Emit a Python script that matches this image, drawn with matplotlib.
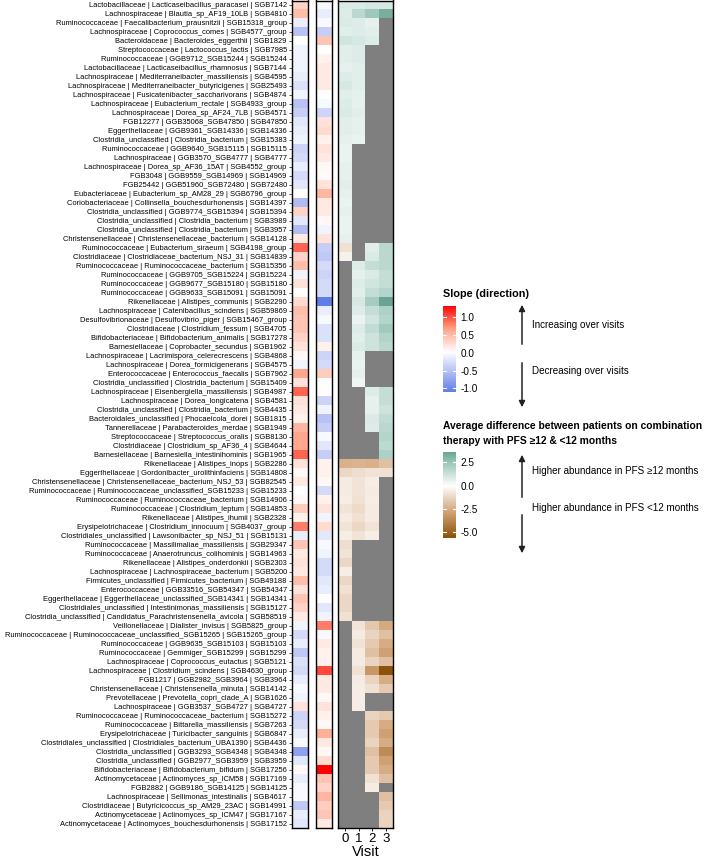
import numpy as np
import matplotlib
matplotlib.use("Agg")
import matplotlib.pyplot as plt
from matplotlib.colors import LinearSegmentedColormap, Normalize

plt.rcParams["font.family"] = ["Liberation Sans", "DejaVu Sans"]

nan = np.nan

taxa = [
    "Lactobacillaceae | Lacticaseibacillus_paracasei | SGB7142",
    "Lachnospiraceae | Blautia_sp_AF19_10LB | SGB4810",
    "Ruminococcaceae | Faecalibacterium_prausnitzii | SGB15318_group",
    "Lachnospiraceae | Coprococcus_comes | SGB4577_group",
    "Bacteroidaceae | Bacteroides_eggerthii | SGB1829",
    "Streptococcaceae | Lactococcus_lactis | SGB7985",
    "Ruminococcaceae | GGB9712_SGB15244 | SGB15244",
    "Lactobacillaceae | Lacticaseibacillus_rhamnosus | SGB7144",
    "Lachnospiraceae | Mediterraneibacter_massiliensis | SGB4595",
    "Lachnospiraceae | Mediterraneibacter_butyricigenes | SGB25493",
    "Lachnospiraceae | Fusicatenibacter_saccharivorans | SGB4874",
    "Lachnospiraceae | Eubacterium_rectale | SGB4933_group",
    "Lachnospiraceae | Dorea_sp_AF24_7LB | SGB4571",
    "FGB12277 | GGB35068_SGB47850 | SGB47850",
    "Eggerthellaceae | GGB9361_SGB14336 | SGB14336",
    "Clostridia_unclassified | Clostridia_bacterium | SGB15383",
    "Ruminococcaceae | GGB9640_SGB15115 | SGB15115",
    "Lachnospiraceae | GGB3570_SGB4777 | SGB4777",
    "Lachnospiraceae | Dorea_sp_AF36_15AT | SGB4552_group",
    "FGB3048 | GGB9559_SGB14969 | SGB14969",
    "FGB25442 | GGB51960_SGB72480 | SGB72480",
    "Eubacteriaceae | Eubacterium_sp_AM28_29 | SGB6796_group",
    "Coriobacteriaceae | Collinsella_bouchesdurhonensis | SGB14397",
    "Clostridia_unclassified | GGB9774_SGB15394 | SGB15394",
    "Clostridia_unclassified | Clostridia_bacterium | SGB3989",
    "Clostridia_unclassified | Clostridia_bacterium | SGB3957",
    "Christensenellaceae | Christensenellaceae_bacterium | SGB14128",
    "Ruminococcaceae | Eubacterium_siraeum | SGB4198_group",
    "Clostridiaceae | Clostridiaceae_bacterium_NSJ_31 | SGB14839",
    "Ruminococcaceae | Ruminococcaceae_bacterium | SGB15356",
    "Ruminococcaceae | GGB9705_SGB15224 | SGB15224",
    "Ruminococcaceae | GGB9677_SGB15180 | SGB15180",
    "Ruminococcaceae | GGB9633_SGB15091 | SGB15091",
    "Rikenellaceae | Alistipes_communis | SGB2290",
    "Lachnospiraceae | Catenibacillus_scindens | SGB59869",
    "Desulfovibrionaceae | Desulfovibrio_piger | SGB15467_group",
    "Clostridiaceae | Clostridium_fessum | SGB4705",
    "Bifidobacteriaceae | Bifidobacterium_animalis | SGB17278",
    "Barnesiellaceae | Coprobacter_secundus | SGB1962",
    "Lachnospiraceae | Lacrimispora_celerecrescens | SGB4868",
    "Lachnospiraceae | Dorea_formicigenerans | SGB4575",
    "Enterococcaceae | Enterococcus_faecalis | SGB7962",
    "Clostridia_unclassified | Clostridia_bacterium | SGB15409",
    "Lachnospiraceae | Eisenbergiella_massiliensis | SGB4987",
    "Lachnospiraceae | Dorea_longicatena | SGB4581",
    "Clostridia_unclassified | Clostridia_bacterium | SGB4435",
    "Bacteroidales_unclassified | Phocaeicola_dorei | SGB1815",
    "Tannerellaceae | Parabacteroides_merdae | SGB1949",
    "Streptococcaceae | Streptococcus_oralis | SGB8130",
    "Clostridiaceae | Clostridium_sp_AF36_4 | SGB4644",
    "Barnesiellaceae | Barnesiella_intestinihominis | SGB1965",
    "Rikenellaceae | Alistipes_inops | SGB2286",
    "Eggerthellaceae | Gordonibacter_urolithinfaciens | SGB14808",
    "Christensenellaceae | Christensenellaceae_bacterium_NSJ_53 | SGB82545",
    "Ruminococcaceae | Ruminococcaceae_unclassified_SGB15233 | SGB15233",
    "Ruminococcaceae | Ruminococcaceae_bacterium | SGB14906",
    "Ruminococcaceae | Clostridium_leptum | SGB14853",
    "Rikenellaceae | Alistipes_ihumii | SGB2328",
    "Erysipelotrichaceae | Clostridium_innocuum | SGB4037_group",
    "Clostridiales_unclassified | Lawsonibacter_sp_NSJ_51 | SGB15131",
    "Ruminococcaceae | Massilimaliae_massiliensis | SGB29347",
    "Ruminococcaceae | Anaerotruncus_colihominis | SGB14963",
    "Rikenellaceae | Alistipes_onderdonkii | SGB2303",
    "Lachnospiraceae | Lachnospiraceae_bacterium | SGB5200",
    "Firmicutes_unclassified | Firmicutes_bacterium | SGB49188",
    "Enterococcaceae | GGB33516_SGB54347 | SGB54347",
    "Eggerthellaceae | Eggerthellaceae_unclassified_SGB14341 | SGB14341",
    "Clostridiales_unclassified | Intestinimonas_massiliensis | SGB15127",
    "Clostridia_unclassified | Candidatus_Parachristensenella_avicola | SGB58519",
    "Veillonellaceae | Dialister_invisus | SGB5825_group",
    "Ruminococcaceae | Ruminococcaceae_unclassified_SGB15265 | SGB15265_group",
    "Ruminococcaceae | GGB9635_SGB15103 | SGB15103",
    "Ruminococcaceae | Gemmiger_SGB15299 | SGB15299",
    "Lachnospiraceae | Coprococcus_eutactus | SGB5121",
    "Lachnospiraceae | Clostridium_scindens | SGB4630_group",
    "FGB1217 | GGB2982_SGB3964 | SGB3964",
    "Christensenellaceae | Christensenella_minuta | SGB14142",
    "Prevotellaceae | Prevotella_copri_clade_A | SGB1626",
    "Lachnospiraceae | GGB3537_SGB4727 | SGB4727",
    "Ruminococcaceae | Ruminococcaceae_bacterium | SGB15272",
    "Ruminococcaceae | Bittarella_massiliensis | SGB7263",
    "Erysipelotrichaceae | Turicibacter_sanguinis | SGB6847",
    "Clostridiales_unclassified | Clostridiales_bacterium_UBA1390 | SGB4436",
    "Clostridia_unclassified | GGB3293_SGB4348 | SGB4348",
    "Clostridia_unclassified | GGB2977_SGB3959 | SGB3959",
    "Bifidobacteriaceae | Bifidobacterium_bifidum | SGB17256",
    "Actinomycetaceae | Actinomyces_sp_ICM58 | SGB17169",
    "FGB2882 | GGB9186_SGB14125 | SGB14125",
    "Lachnospiraceae | Sellimonas_intestinalis | SGB4617",
    "Clostridiaceae | Butyricicoccus_sp_AM29_23AC | SGB14991",
    "Actinomycetaceae | Actinomyces_sp_ICM47 | SGB17167",
    "Actinomycetaceae | Actinomyces_bouchesdurhonensis | SGB17152",
]

slope_a = [
    0.3, 0.45, -0.15, -0.5, 0.0, -0.1, -0.1, -0.1, -0.15, -0.25,
    -0.1, -0.5, -0.4, -0.2, -0.15, -0.1, -0.35, -0.3, -0.15, -0.3,
    -0.2, 0.0, -0.55, 0.3, -0.2, -0.55, 0.15, 0.9, 0.3, 0.45,
    -0.1, 0.2, 0.0, 0.25, 0.45, 0.4, 0.4, 0.3, 0.2, 0.05,
    -0.1, 0.6, 0.2, 0.9, 0.2, 0.15, 0.1, 0.5, 0.6, 0.6,
    0.9, 0.2, 0.05, 0.15, 0.0, 0.05, 0.35, 0.1, 0.8, -0.15,
    0.4, 0.15, 0.2, 0.15, 0.45, 0.2, 0.4, 0.3, 0.15, -0.1,
    -0.3, -0.15, -0.45, -0.25, -0.3, -0.15, -0.05, -0.1, 0.2, -0.35,
    -0.3, -0.15, -0.05, -0.8, -0.2, 0.05, -0.15, -0.05, -0.05, -0.45,
    -0.15, -0.2,
]

slope_b = [
    -0.05, -0.15, -0.05, -0.4, 0.4, 0.0, 0.1, 0.15, 0.15, 0.15,
    0.0, -0.05, -0.35, 0.2, 0.25, 0.1, 0.2, 0.15, 0.05, 0.03,
    0.2, 0.5, 0.15, 0.15, 0.05, -0.1, 0.2, -0.4, -0.45, -0.3,
    -0.35, -0.3, -0.3, -1.1, -0.15, -0.05, -0.25, -0.25, 0.1, -0.35,
    -0.3, 0.35, 0.0, 0.0, -0.35, -0.1, -0.5, -0.4, -0.05, -0.2,
    -0.4, 0.1, 0.1, 0.05, -0.3, 0.1, 0.2, -0.1, 0.25, -0.2,
    -0.05, -0.1, -0.3, -0.3, -0.2, -0.15, 0.0, -0.2, -0.1, 0.8,
    -0.05, 0.15, 0.1, 0.1, 1.0, 0.15, 0.15, 0.05, 0.2, 0.1,
    0.05, 0.55, 0.15, 0.05, 0.25, 1.3, 0.4, 0.3, 0.5, 0.35,
    0.4, 0.15,
]

visit_0 = [
    0.9, 0.8, 0.9, 0.7, 1.1, 0.7, 0.7, 0.6, 0.8, 1.0,
    0.7, 0.8, 0.9, 0.7, 0.7, 0.6, 0.5, 0.5, 0.6, 0.6,
    0.7, 0.6, 0.5, 0.6, 0.5, 0.5, 0.6, -0.9, -0.4, nan,
    nan, nan, nan, nan, nan, nan, nan, nan, nan, nan,
    nan, nan, nan, nan, nan, nan, nan, nan, nan, nan,
    nan, -2.4, -1.2, -0.6, -0.6, -0.5, -0.8, -0.6, -0.8, -0.5,
    -1.0, -0.8, -1.2, -0.5, -1.2, -0.9, -1.2, -1.2, -0.9, nan,
    nan, nan, nan, nan, nan, nan, nan, nan, nan, nan,
    nan, nan, nan, nan, nan, nan, nan, nan, nan, nan,
    nan, nan,
]

visit_1 = [
    0.9, 1.7, 0.8, 0.8, 1.0, 0.8, 0.8, 0.7, 0.7, 0.7,
    0.6, 0.6, 0.7, 0.6, 0.6, 0.5, nan, nan, nan, nan,
    nan, nan, nan, nan, nan, nan, nan, nan, nan, 0.8,
    0.6, 0.8, 0.7, 1.0, 0.8, 0.5, 0.8, 0.7, 0.9, 0.6,
    0.5, 0.6, 0.4, nan, nan, nan, nan, nan, nan, nan,
    nan, -2.3, -1.0, -0.8, -0.8, -0.9, -1.1, -0.9, -1.2, -0.8,
    nan, nan, nan, nan, nan, nan, nan, nan, nan, -0.8,
    -0.6, -0.8, -0.6, -0.6, -0.9, -0.6, -0.5, -0.5, -0.5, nan,
    nan, nan, nan, nan, nan, nan, nan, nan, nan, nan,
    nan, nan,
]

visit_2 = [
    1.0, 2.4, 0.6, 0.7, 0.8, nan, nan, nan, nan, nan,
    nan, nan, nan, nan, nan, nan, nan, nan, nan, nan,
    nan, nan, nan, nan, nan, nan, nan, 0.7, 0.9, 1.4,
    0.9, 1.1, 1.4, 2.2, 1.4, 1.1, 1.5, 1.2, 1.2, nan,
    nan, nan, nan, 0.8, 0.6, 0.6, 0.9, 0.8, nan, nan,
    nan, -2.4, -0.8, -0.5, -0.6, -0.5, -0.6, -0.6, -0.8, -0.5,
    nan, nan, nan, nan, nan, nan, nan, nan, nan, -1.7,
    -1.3, -1.6, -1.9, -1.3, -3.2, -1.3, -0.9, nan, nan, -1.3,
    -1.6, -1.6, -1.3, -1.9, -1.6, -1.6, -0.9, -0.6, nan, nan,
    nan, nan,
]

visit_3 = [
    1.0, 3.3, nan, nan, nan, nan, nan, nan, nan, nan,
    nan, nan, nan, nan, nan, nan, nan, nan, nan, nan,
    nan, nan, nan, nan, nan, nan, nan, 1.7, 1.7, 1.7,
    1.4, 1.4, 1.8, 3.6, 2.0, 1.8, 2.3, 1.9, 1.7, nan,
    nan, nan, nan, 1.4, 1.4, 1.2, 1.5, 1.7, 1.8, 1.6,
    2.0, -1.9, -0.9, nan, nan, nan, nan, nan, nan, nan,
    nan, nan, nan, nan, nan, nan, nan, nan, nan, -2.6,
    -1.9, -2.5, -2.9, -1.9, -5.6, -2.5, -1.6, nan, nan, -1.6,
    -2.5, -2.9, -2.5, -3.6, -2.9, -2.5, -1.9, nan, -1.9, -1.6,
    -1.3, -1.3,
]

visits = ["0", "1", "2", "3"]

W, H = 707, 858
NA_COLOR = "#7f7f7f"

slope_cmap = LinearSegmentedColormap.from_list(
    "slope", ["#4169e1", "#a6b1f2", "#ffffff", "#ffa286", "#ff0000"])
slope_cmap.set_bad(NA_COLOR)
diff_cmap = LinearSegmentedColormap.from_list(
    "diff", ["#8c510a", "#d2a478", "#ffffff", "#8dbfb0", "#17634f"])
diff_cmap.set_bad(NA_COLOR)

slope_lim = max(abs(np.nanmin(slope_a + slope_b)), np.nanmax(slope_a + slope_b))
diff_all = np.array(visit_0 + visit_1 + visit_2 + visit_3)
diff_lim = max(abs(np.nanmin(diff_all)), np.nanmax(diff_all))
slope_norm = Normalize(-slope_lim, slope_lim)
diff_norm = Normalize(-diff_lim, diff_lim)


def box(x0, y0, x1, y1):
    return [x0 / W, 1 - y1 / H, (x1 - x0) / W, (y1 - y0) / H]


fig = plt.figure(figsize=(W / 100, H / 100), dpi=100)

top, bottom = 0.5, 828
ax_a = fig.add_axes(box(292, top, 308, bottom))
ax_b = fig.add_axes(box(316, top, 332, bottom))
ax_v = fig.add_axes(box(338, top, 393, bottom))

n = len(taxa)
for ax, vals in ((ax_a, slope_a), (ax_b, slope_b)):
    ax.imshow(np.ma.masked_invalid(np.array(vals)[:, None]), cmap=slope_cmap,
              norm=slope_norm, aspect="auto", interpolation="nearest")
    ax.set_xticks([])
    ax.set_yticks([])

grid = np.ma.masked_invalid(np.column_stack([visit_0, visit_1, visit_2, visit_3]))
ax_v.imshow(grid, cmap=diff_cmap, norm=diff_norm, aspect="auto", interpolation="nearest")
ax_v.set_yticks([])
ax_v.set_xticks(range(len(visits)))
ax_v.set_xticklabels(visits, fontsize=9.5)
ax_v.tick_params(axis="x", length=2.5, width=0.6, pad=1)
ax_v.set_xlabel("Visit", fontsize=10.5, labelpad=0)

ax_a.set_yticks(range(n))
ax_a.set_yticklabels(taxa, fontsize=5.45)
ax_a.tick_params(axis="y", length=2.5, width=0.6, pad=1.2, color="#333333")

for ax in (ax_a, ax_b, ax_v):
    for s in ax.spines.values():
        s.set_linewidth(1.0)
        s.set_color("black")


def draw_colorbar(rect, cmap, norm, lo, hi, ticks, labels):
    cax = fig.add_axes(box(*rect))
    grad = np.linspace(hi, lo, 256)[:, None]
    cax.imshow(grad, cmap=cmap, norm=norm, aspect="auto", extent=[0, 1, lo, hi])
    cax.set_xlim(0, 1)
    cax.set_ylim(lo, hi)
    cax.set_xticks([])
    cax.yaxis.tick_right()
    cax.set_yticks(ticks)
    cax.set_yticklabels(labels, fontsize=7.2)
    cax.tick_params(axis="y", length=0, pad=3)
    for t in ticks:
        cax.plot([0, 0.2], [t, t], color="white", lw=0.8)
        cax.plot([0.8, 1], [t, t], color="white", lw=0.8)
    for s in cax.spines.values():
        s.set_visible(False)


s_lo = min(slope_a + slope_b)
s_hi = max(slope_a + slope_b)
draw_colorbar((443, 306, 456, 392), slope_cmap, slope_norm, s_lo, s_hi,
              [-1.0, -0.5, 0.0, 0.5, 1.0], ["-1.0", "-0.5", "0.0", "0.5", "1.0"])
d_lo = np.nanmin(diff_all)
d_hi = np.nanmax(diff_all)
draw_colorbar((443, 452, 456, 538), diff_cmap, diff_norm, d_lo, d_hi,
              [-5.0, -2.5, 0.0, 2.5], ["-5.0", "-2.5", "0.0", "2.5"])

ov = fig.add_axes([0, 0, 1, 1], facecolor="none")
ov.set_xlim(0, W)
ov.set_ylim(H, 0)
ov.axis("off")

ov.text(443, 294, "Slope (direction)", fontsize=7.8, fontweight="bold", va="center")
ov.text(443, 426, "Average difference between patients on combination",
        fontsize=7.4, fontweight="bold", va="center")
ov.text(443, 441, "therapy with PFS \u226512 & <12 months",
        fontsize=7.4, fontweight="bold", va="center")

arrow = dict(arrowstyle="-|>", color="#222222", lw=1.1, mutation_scale=9)
ov.annotate("", xy=(522, 302), xytext=(522, 347), arrowprops=arrow)
ov.annotate("", xy=(522, 410), xytext=(522, 360), arrowprops=arrow)
ov.text(532, 325, "Increasing over visits", fontsize=7.1, va="center")
ov.text(532, 371, "Decreasing over visits", fontsize=7.1, va="center")

ov.annotate("", xy=(522, 452), xytext=(522, 500), arrowprops=arrow)
ov.annotate("", xy=(522, 556), xytext=(522, 512), arrowprops=arrow)
ov.text(532, 471, "Higher abundance in PFS \u226512 months", fontsize=7.1, va="center")
ov.text(532, 508, "Higher abundance in PFS <12 months", fontsize=7.1, va="center")

fig.savefig("out.png", dpi=100)
